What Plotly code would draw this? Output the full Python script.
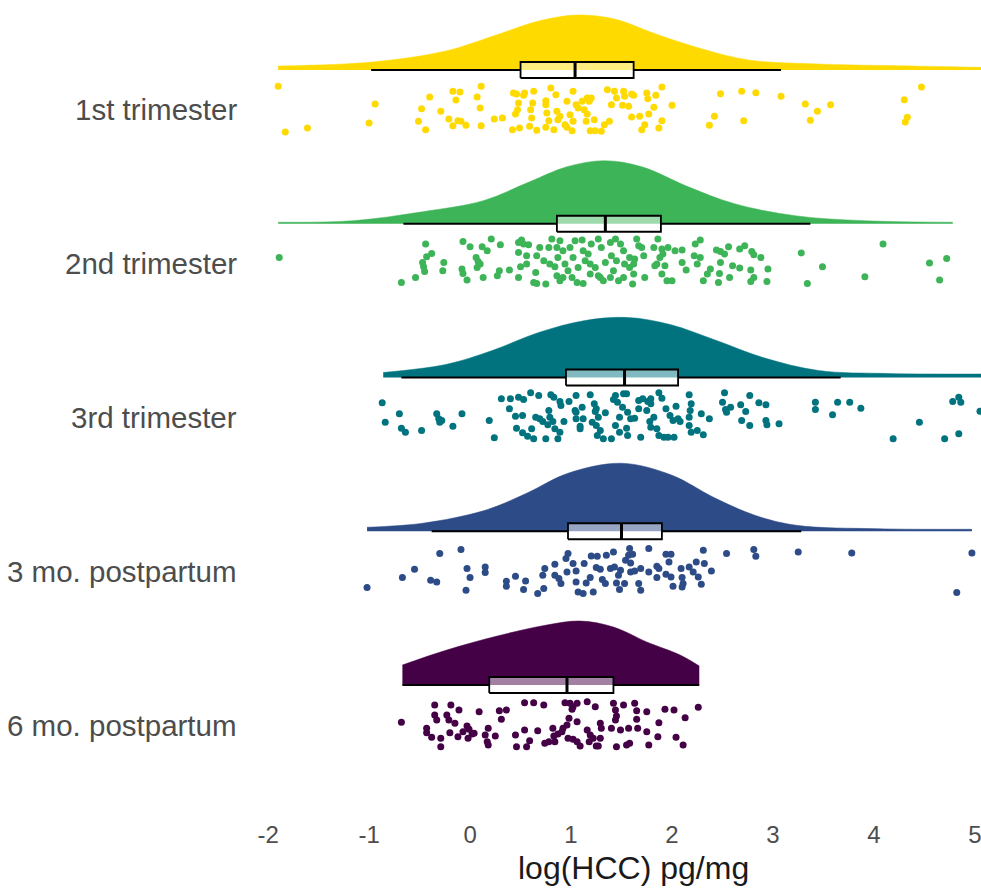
import plotly.graph_objects as go

# ---------------- data ----------------
groups = ["1st trimester", "2nd trimester", "3rd trimester", "3 mo. postpartum", "6 mo. postpartum"]
colors = ["#FFDA00", "#3DB457", "#00737F", "#2D4B86", "#440145"]

# box-plot statistics (log HCC)
whisker_lo = [-0.98, -0.66, -0.68, -0.38, -0.67]
q1         = [0.50, 0.86, 0.95, 0.97, 0.19]
median     = [1.04, 1.34, 1.53, 1.50, 0.96]
q3         = [1.62, 1.89, 2.06, 1.90, 1.42]
whisker_hi = [3.08, 3.37, 3.67, 3.28, 2.27]

# half-violin density profiles (x in log HCC, height read in pixels)
dens_x_1 = [-1.90, -0.97, -0.24, 0.23, 0.68, 1.06, 1.43, 1.84, 2.30, 2.76, 3.45, 4.38, 5.15]
dens_h_1 = [4, 8, 19, 34, 49, 55, 51, 36, 21, 10, 6, 4, 2.5]
dens_x_2 = [-1.90, -1.16, -0.47, 0.13, 0.59, 0.96, 1.33, 1.70, 2.16, 2.62, 3.22, 3.91, 4.78]
dens_h_2 = [1.5, 3, 12, 23, 42, 57, 63, 57, 37, 20, 8, 3, 1.5]
dens_x_3 = [-0.86, -0.24, 0.22, 0.68, 1.14, 1.56, 1.98, 2.44, 2.90, 3.45, 4.14, 5.15]
dens_h_3 = [5, 13, 27, 45, 57, 60, 53, 37, 20, 7, 4, 3.5]
dens_x_4 = [-1.02, -0.47, 0.15, 0.56, 0.97, 1.50, 2.00, 2.41, 2.82, 3.23, 4.05, 4.97]
dens_h_4 = [4, 8, 21, 38, 58, 68, 56, 34, 16, 6, 2.5, 2]
dens_x_5 = [-0.67, -0.23, 0.27, 0.76, 1.09, 1.42, 1.75, 2.08, 2.27]
dens_h_5 = [20, 35, 49, 60, 64, 58, 43, 30, 19]

# raw observations (log HCC) and their vertical jitter (-1..1)
hcc_1 = [-1.90, -1.83, -1.61, -0.94, -1.00, -0.40, -0.48, -0.51, -0.44, -0.29, -0.17, -0.10, -0.14, -0.21,
         -0.17, -0.12, -0.09, -0.04, 0.07, 0.11, 0.10, 0.11, 0.24, 0.32, 0.43, 0.46, 0.48, 0.47, 0.45, 0.42,
         0.49, 0.54, 0.53, 0.63, 0.62, 0.60, 0.61, 0.59, 0.66, 0.75, 0.75, 0.76, 0.78, 0.75, 0.83, 0.80, 0.85,
         0.86, 0.89, 0.87, 0.96, 0.99, 1.02, 0.94, 0.96, 1.01, 1.02, 1.05, 1.07, 1.11, 1.13, 1.16, 1.18, 1.20,
         1.16, 1.15, 1.23, 1.19, 1.24, 1.30, 1.33, 1.38, 1.36, 1.43, 1.40, 1.45, 1.52, 1.51, 1.57, 1.53,
         1.60, 1.62, 1.75, 1.76, 1.84, 1.90, 1.82, 2.00, 1.60, 1.68, 1.77, 1.73, 1.70, 1.90, 1.87, 2.48, 2.69,
         2.83, 3.08, 2.42, 2.37, 2.71, 3.32, 3.44, 3.57, 3.37, 4.47, 4.30, 4.33, 4.31]
jit_1 = [-0.95, 0.88, 0.72, -0.24, 0.52, -0.52, -0.05, 0.45, 0.79, 0.05, -0.75, -0.72, -0.40, 0.36,
         0.63, 0.43, 0.45, 0.61, -0.52, -0.95, -0.08, 0.63, 0.36, 0.32, -0.68, -0.64, -0.28, -0.01, 0.16, 0.79,
         0.72, -0.68, -0.59, -0.75, -0.28, -0.01, 0.32, 0.65, 0.81, -0.37, -0.21, 0.12, 0.43, 0.69, 0.79, -0.88, -0.61,
         0.05, 0.25, 0.39, -0.35, 0.19, 0.45, 0.59, 0.69, 0.83, -0.75, -0.21, -0.08, -0.35, -0.01, -0.48, -0.35, -0.48,
         0.16, 0.45, 0.39, 0.83, 0.83, 0.85, 0.59, 0.45, -0.81, -0.75, -0.21, -0.48, -0.75, -0.19, -0.15, -0.55,
         -0.64, -0.59, -0.68, -0.45, -0.59, -0.92, -0.11, -0.19, 0.28, 0.25, 0.16, 0.59, 0.79, 0.43, 0.72, -0.65, -0.75,
         -0.69, -0.55, 0.25, 0.61, 0.43, -0.24, 0.05, -0.21, 0.41, -0.92, -0.41, 0.29, 0.48]

hcc_2 = [-1.89, -0.68, -0.54, -0.44, -0.38, -0.43, -0.47, -0.46, -0.45, -0.26, -0.27, -0.07, 0.00, 0.12, 0.17,
         0.21, 0.30, 0.06, 0.08, 0.10, 0.07, -0.08, -0.07, -0.03, 0.13, 0.27, 0.29, 0.39, 0.48, 0.50, 0.56, 0.56,
         0.48, 0.48, 0.51, 0.53, 0.58, 0.66, 0.63, 0.65, 0.75, 0.66, 0.69, 0.78, 0.81, 0.86, 0.89, 0.73, 0.79,
         0.84, 0.87, 0.92, 0.94, 0.97, 0.92, 1.01, 1.06, 1.12, 0.99, 1.04, 1.11, 1.12, 1.17, 1.14, 1.19, 1.24,
         1.27, 1.29, 1.32, 1.39, 1.42, 1.47, 1.52, 1.53, 1.58, 1.20, 1.27, 1.30, 1.39, 1.44, 1.49, 1.52, 1.40,
         1.45, 1.02, 1.07, 0.86, 0.89, 1.19, 1.34,
         1.65, 1.67, 1.70, 1.72, 1.63, 1.62, 1.58, 1.62, 1.61, 1.73, 1.82, 1.86, 1.90, 1.91, 1.88, 1.85, 1.83,
         1.93, 1.90, 1.95, 2.00, 1.96, 2.03, 2.10, 2.10, 2.14, 2.23, 2.28, 2.22, 2.28, 2.25, 2.31, 2.35, 2.38,
         2.44, 2.48, 2.52, 2.56, 2.48, 2.47, 2.46, 2.57, 2.60, 2.67, 2.67, 2.72, 2.79, 2.81, 2.88, 2.78, 2.81,
         2.78, 2.95, 2.94, 3.28, 3.49, 3.34, 4.09, 3.91, 4.55, 4.72, 4.65]
jit_2 = [-0.25, 0.75, 0.55, -0.79, -0.41, -0.28, -0.05, 0.12, 0.31, -0.05, 0.28, -0.89, -0.68, -0.68, -0.52,
         -0.99, -0.76, -0.25, -0.09, 0.01, 0.15, 0.21, 0.39, 0.65, 0.55, 0.48, 0.28, 0.25, 0.55, 0.12, 0.01, -0.32,
         -0.45, -0.85, -0.95, -0.79, -0.76, 0.79, 0.75, 0.35, 0.81, -0.32, -0.65, -0.65, -0.99, -0.65, -0.92, -0.12, 0.01,
         0.12, -0.25, -0.52, 0.01, 0.28, 0.55, 0.55, 0.75, 0.79, -0.65, -0.92, -0.95, -0.52, -0.39, -0.12, 0.01, 0.15,
         0.48, 0.55, 0.68, 0.55, 0.28, 0.68, 0.55, 0.01, -0.25, -0.79, -0.99, -0.65, -0.85, -0.99, -0.79, -0.52, -0.32,
         -0.12, -0.25, 0.15, 0.48, 0.68, 0.41, -0.05,
         -0.99, -0.72, -0.65, -0.32, -0.19, 0.01, 0.15, 0.41, 0.81, 0.55, -0.65, -0.99, -0.59, -0.39, -0.25, 0.01, 0.08,
         0.08, 0.41, 0.68, 0.68, -0.65, -0.52, -0.55, -0.05, 0.25, -0.79, -0.95, -0.32, -0.25, 0.01, 0.68, 0.41, 0.21,
         -0.55, -0.49, -0.39, -0.68, -0.05, 0.39, 0.75, 0.55, 0.08, 0.17, -0.59, -0.72, -0.49, -0.36, -0.25, 0.25, 0.55,
         0.71, 0.21, 0.71, -0.43, 0.12, 0.79, -0.79, 0.52, -0.03, -0.21, 0.65]

hcc_3 = [-0.87, -0.84, -0.70, -0.68, -0.64, -0.48, -0.33, -0.31, -0.30, -0.28, -0.17, -0.08, 0.19, 0.24, 0.31,
         0.39, 0.40, 0.48, 0.53, 0.60, 0.68, 0.80, 0.83, 0.45, 0.52, 0.46, 0.52, 0.57, 0.61, 0.63, 0.75, 0.65,
         0.69, 0.72, 0.78, 0.79, 0.77, 0.82, 0.84, 0.89, 0.87, 0.90, 0.89, 0.98, 0.93, 1.05, 1.04, 1.05, 1.11,
         1.05, 1.12, 1.09, 1.09, 1.19, 1.23, 1.25, 1.24, 1.21, 1.25, 1.27, 1.29, 1.26, 1.32, 1.40, 1.34, 1.44,
         1.42, 1.46, 1.52, 1.55, 1.51, 1.48, 1.56, 1.59, 1.63, 1.44, 1.48, 1.55, 1.56, 1.69, 1.67, 1.71, 1.76,
         1.79, 1.79, 1.67, 1.75, 1.78, 1.82, 1.79, 1.85, 1.87, 1.92, 1.96, 2.02, 1.87, 1.90, 1.94, 1.98, 2.01,
         2.06, 2.08, 2.04, 2.17, 2.19, 2.18, 2.17, 2.17, 2.19, 2.25, 2.31, 2.29, 2.37, 2.52, 2.50, 2.53, 2.54,
         2.58, 2.68, 2.69, 2.77, 2.73, 2.77, 2.86, 2.93, 2.93, 2.94, 3.06, 3.42, 3.42, 3.59, 3.64, 3.76, 3.87,
         4.19, 4.45, 4.70, 4.78, 4.84, 4.86, 4.84, 5.05]
jit_3 = [-0.59, 0.19, -0.15, 0.43, 0.59, 0.52, -0.15, 0.05, 0.19, 0.12, 0.35, -0.15, 0.12, 0.81, -0.75,
         -0.35, -0.75, -0.81, -0.72, -0.99, -0.88, -0.91, -0.81, -0.05, -0.08, 0.43, 0.61, 0.75, 0.45, 0.85, 0.85, -0.01,
         0.05, 0.16, -0.28, -0.01, 0.29, 0.16, 0.45, 0.59, 0.85, -0.48, -0.64, -0.64, 0.16, -0.88, -0.28, -0.21, -0.41,
         0.05, 0.05, 0.35, 0.45, -0.91, -0.55, -0.35, -0.24, 0.19, 0.32, -0.01, 0.52, 0.72, 0.85, 0.85, -0.19, -0.88,
         -0.72, -0.61, -0.95, -0.95, -0.41, -0.01, -0.21, 0.05, 0.03, 0.32, 0.59, 0.43, 0.72, 0.79, -0.68, -0.75, -0.64,
         -0.75, -0.55, -0.35, -0.28, 0.16, -0.01, 0.39, 0.45, 0.72, 0.79, 0.79, 0.79, -0.99, -0.77, -0.35, -0.08, 0.12,
         0.05, 0.16, -0.45, -0.91, -0.55, -0.28, -0.01, 0.32, 0.59, 0.52, 0.69, -0.15, 0.05, -0.99, -0.61, -0.32, -0.21,
         -0.41, -0.51, 0.12, 0.32, -0.24, -0.88, -0.59, -0.51, 0.12, 0.29, 0.25, -0.61, -0.32, -0.11, -0.61, -0.61, -0.37,
         0.85, 0.19, 0.85, -0.64, -0.81, -0.61, 0.65, -0.25]

hcc_4 = [-1.02, -0.67, -0.55, -0.39, -0.33, -0.30, -0.09, -0.03, 0.00, -0.04, 0.15, 0.15, 0.36, 0.36, 0.45,
         0.55, 0.53, 0.67, 0.72, 0.74, 0.73, 0.84, 0.84, 0.88, 0.90, 0.95, 0.97, 0.96, 1.02, 1.05, 1.05, 1.13,
         1.15, 1.07, 1.12, 1.22, 1.19, 1.20, 1.26, 1.35, 1.42, 1.25, 1.29, 1.31, 1.34, 1.39, 1.43, 1.47, 1.49,
         1.45, 1.48, 1.53, 1.54, 1.57, 1.58, 1.59, 1.61, 1.59, 1.63, 1.69, 1.67, 1.69, 1.77, 1.77, 1.85, 1.87,
         1.94, 1.85, 1.94, 1.99, 1.97, 2.01, 1.99, 2.09, 2.10, 2.11, 2.10, 2.17, 2.21, 2.24, 2.26, 2.29, 2.31,
         2.32, 2.39, 2.54, 2.81, 2.83, 3.25, 3.78, 4.97, 4.82]
jit_4 = [0.65, 0.25, -0.08, 0.36, 0.43, -0.71, -0.87, -0.11, 0.25, 0.76, -0.17, 0.05, 0.40, 0.60, 0.20,
         0.39, 0.73, 0.89, 0.16, -0.11, 0.69, -0.28, 0.16, 0.29, 0.49, -0.51, -0.71, 0.03, -0.31, -0.01, 0.43, -0.31,
         0.47, 0.83, 0.89, 0.83, 0.25, -0.61, -0.60, -0.64, -0.77, -0.15, -0.08, 0.33, 0.49, -0.11, -0.17, 0.16, -0.04,
         0.47, 0.73, 0.49, -0.44, -0.64, -0.91, -0.33, -0.68, 0.03, -0.01, -0.11, 0.49, 0.76, -0.91, 0.03, -0.20, -0.11,
         0.12, 0.25, -0.68, -0.68, -0.37, 0.60, 0.23, -0.11, 0.25, 0.49, 0.63, -0.17, 0.03, -0.37, 0.23, 0.52, -0.84,
         -0.31, -0.01, -0.71, -0.87, -0.60, -0.77, -0.73, -0.73, 0.85]

hcc_5 = [-0.68, -0.35, -0.19, -0.11, 0.09, 0.29, 0.36, 0.31, -0.35, -0.33, -0.23, -0.21, -0.15, -0.43, -0.43,
         -0.38, -0.29, -0.29, -0.20, -0.12, -0.07, -0.03, -0.01, 0.02, -0.02, 0.04, 0.15, 0.18, 0.17, 0.18, 0.25,
         0.45, 0.46, 0.54, 0.56, 0.59, 0.67, 0.54, 0.63, 0.73, 0.74, 0.78, 0.82, 0.84, 0.87, 0.91, 0.92, 0.96,
         0.98, 0.97, 1.02, 1.06, 0.94, 0.99, 1.06, 1.01, 1.02, 1.06, 1.16, 1.16, 1.19, 1.18, 1.22, 1.25, 1.27,
         1.24, 1.29, 1.30, 1.29, 1.40, 1.42, 1.44, 1.45, 1.44, 1.49, 1.52, 1.57, 1.55, 1.58, 1.63, 1.65, 1.65,
         1.66, 1.75, 1.75, 1.77, 1.86, 1.87, 1.93, 2.02, 2.04, 2.11, 2.13, 2.26, 1.45, 1.09, 0.83]
jit_5 = [-0.11, -0.80, -0.80, -0.60, -0.53, -0.57, -0.60, -0.23, -0.40, -0.20, -0.40, -0.20, -0.07, 0.13, 0.31,
         0.49, 0.53, 0.87, 0.31, 0.47, 0.27, 0.04, 0.17, 0.36, 0.53, 0.33, 0.40, 0.13, 0.67, 0.80, 0.44,
         0.40, 0.87, 0.20, 0.87, 0.63, 0.23, -0.89, -0.89, -0.80, 0.73, 0.67, 0.13, 0.67, 0.36, 0.27, 0.13, 0.00,
         -0.27, 0.53, 0.57, 0.67, -0.89, -0.87, -0.87, -0.63, -0.73, -0.13, -0.93, 0.20, 0.40, 0.67, 0.53, 0.84, 0.84,
         -0.73, -0.07, 0.13, 0.53, 0.13, -0.87, -0.60, -0.36, -0.20, 0.20, -0.80, 0.13, 0.80, 0.73, -0.87, -0.57, -0.23,
         0.13, -0.53, 0.27, 0.80, 0.47, -0.09, -0.63, -0.60, 0.49, 0.80, -0.29, -0.71, 0.87, 0.84, 0.44]

hcc_all = [hcc_1, hcc_2, hcc_3, hcc_4, hcc_5]
jit_all = [jit_1, jit_2, jit_3, jit_4, jit_5]
dens_x_all = [dens_x_1, dens_x_2, dens_x_3, dens_x_4, dens_x_5]
dens_h_all = [dens_h_1, dens_h_2, dens_h_3, dens_h_4, dens_h_5]

x_ticks = [-2, -1, 0, 1, 2, 3, 4, 5]
x_title = "log(HCC) pg/mg"

# ---------------- layout constants ----------------
PX = 1 / 153.75          # y units per pixel (one category = 153.75 px)
BASE_OFF = 40 * PX       # density baseline above category centre
JIT = 25 * PX            # half-height of jitter band
BOX_W = 16 * PX          # box thickness
FONT = "Liberation Sans, Arial, sans-serif"

n = len(groups)
fig = go.Figure()

# half violins: invisible baseline followed by smooth top curve filled down to it
for i, g in enumerate(groups):
    pos = n - 1 - i
    base = pos + BASE_OFF
    dx = dens_x_all[i]
    dh = dens_h_all[i]
    fig.add_trace(go.Scatter(
        x=[dx[0], dx[-1]], y=[base, base], mode="lines",
        line=dict(width=0, color=colors[i]), hoverinfo="skip", showlegend=False))
    fig.add_trace(go.Scatter(
        x=dx, y=[base + h * PX for h in dh], mode="lines", fill="tonexty", fillcolor=colors[i],
        line=dict(color=colors[i], width=0.5, shape="spline", smoothing=1.0),
        hoverinfo="skip", showlegend=False))

# box plots drawn as scatter shapes so they sit above the densities
for i, g in enumerate(groups):
    pos = n - 1 - i
    base = pos + BASE_OFF
    lo_y, hi_y = base - BOX_W / 2, base + BOX_W / 2
    fig.add_trace(go.Scatter(
        x=[whisker_lo[i], q1[i], None, q3[i], whisker_hi[i]],
        y=[base, base, None, base, base], mode="lines",
        line=dict(color="black", width=2), hoverinfo="skip", showlegend=False))
    fig.add_trace(go.Scatter(
        x=[q1[i], q3[i], q3[i], q1[i], q1[i]],
        y=[lo_y, lo_y, hi_y, hi_y, lo_y], mode="lines", fill="toself",
        fillcolor="rgba(255,255,255,0.5)", line=dict(color="black", width=1.8),
        hoverinfo="skip", showlegend=False))
    fig.add_trace(go.Scatter(
        x=[median[i], median[i]], y=[lo_y, hi_y], mode="lines",
        line=dict(color="black", width=3), hoverinfo="skip", showlegend=False))

# jittered raw points
for i, g in enumerate(groups):
    pos = n - 1 - i
    yv = [pos - j * JIT for j in jit_all[i]]
    fig.add_trace(go.Scatter(
        x=hcc_all[i], y=yv, mode="markers",
        marker=dict(color=colors[i], size=7, line=dict(width=0)),
        showlegend=False, name=g))

annotations = []
for i, g in enumerate(groups):
    annotations.append(dict(
        x=0, xref="paper", y=n - 1 - i, yref="y", text=g, showarrow=False,
        xanchor="right", yanchor="middle", xshift=-19,
        font=dict(family=FONT, size=29.5, color="#4d4d4d")))
annotations.append(dict(
    x=1.62, xref="x", y=0, yref="paper", text=x_title, showarrow=False,
    xanchor="center", yanchor="middle", yshift=-50,
    font=dict(family=FONT, size=32, color="#1a1a1a")))

fig.update_layout(
    width=981, height=890,
    margin=dict(l=258, r=0, t=0, b=72),
    paper_bgcolor="white", plot_bgcolor="white",
    showlegend=False,
    annotations=annotations,
    xaxis=dict(range=[-2.1, 5.06], tickvals=x_ticks, ticktext=[str(t) for t in x_ticks],
               showgrid=False, zeroline=False, showline=False, ticks="",
               ticklabeloverflow="allow",
               tickfont=dict(family=FONT, size=24, color="#4d4d4d")),
    yaxis=dict(range=[-0.6049, 4.7154], showgrid=False, zeroline=False, showline=False,
               showticklabels=False, ticks=""),
)

fig.write_html("out.html")
